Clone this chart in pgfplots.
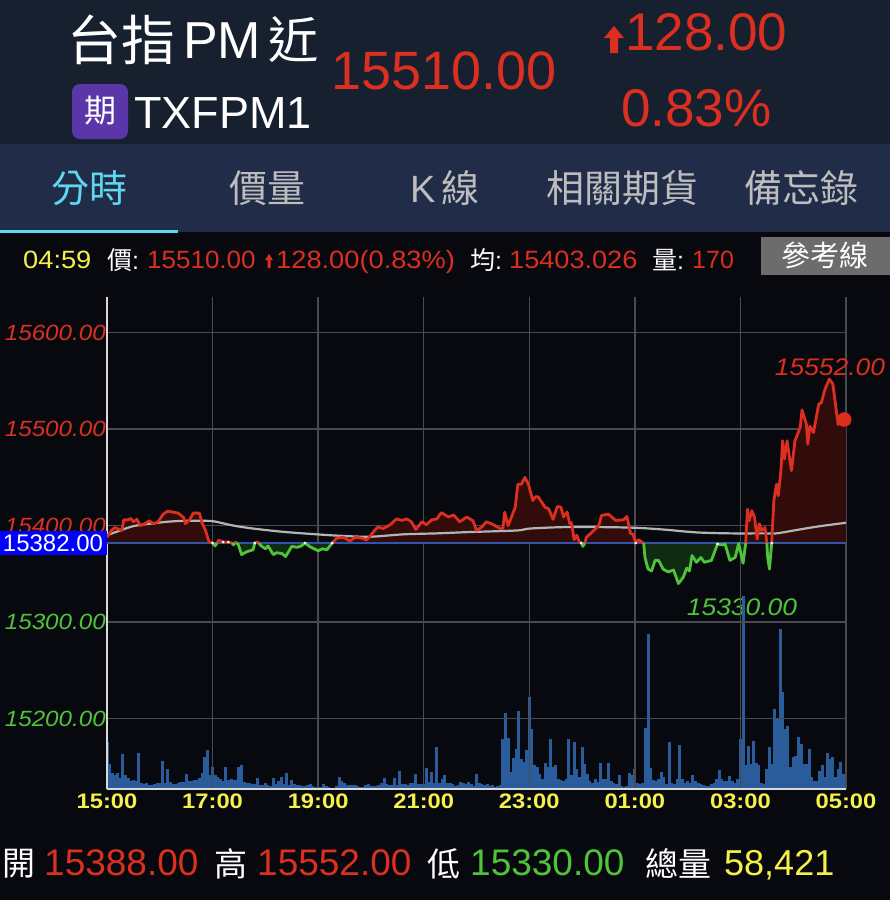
\documentclass[border=0pt]{standalone}
\usepackage{fontspec}
\usepackage{graphicx}
\usepackage{pgfplots}
\usepackage{pgfplotstable}
\pgfplotsset{compat=1.18}
\setmainfont{Liberation Sans}
\newfontfamily\cjk{Noto Sans CJK TC}
\definecolor{hdr}{HTML}{16202F}
\definecolor{tabbg}{HTML}{212C49}
\definecolor{bg}{HTML}{07090F}
\definecolor{upc}{HTML}{DC2F20}
\definecolor{dnc}{HTML}{4FC43A}
\definecolor{yel}{HTML}{F5F04A}
\definecolor{volc}{HTML}{2A5C9C}
\definecolor{basec}{HTML}{3055A8}
\definecolor{upf}{HTML}{320B0B}
\definecolor{dnf}{HTML}{0F2C12}
\definecolor{gridc}{HTML}{4A4B50}
\definecolor{tabc}{HTML}{BDBDBD}
\definecolor{act}{HTML}{5FD8EF}
\definecolor{avgc}{HTML}{B4B4B4}
\definecolor{purp}{HTML}{5A36A8}
\newcommand\T[6][west]{\node[anchor=#1,inner sep=0pt,text=#5,yshift={-0.11pt*#4}] at (#2pt,-#3pt) {\fontsize{#4}{#4}\selectfont\vphantom{(}#6};}
\newcommand\SX[2]{\scalebox{#1}[1]{#2}}
\newcommand\YL[2]{\textcolor{#1}{\SX{1.1}{#2}}}
\newcommand\XL[1]{\SX{1.13}{#1}}
\pgfplotstableread{
m p
0 15388
5 15395
9 15398
13 15396.5
17 15395
19 15406
24 15406
27 15407.5
30 15404
34 15406.5
38 15400
43 15402
48 15405
53 15402
58 15404
64 15412
69 15415
75 15414
81 15413
87 15408.5
89 15402
94 15406
98 15413
105 15413
108 15403
112 15395
116 15383
120 15382
123 15379
125 15382
127 15385
132 15383
138 15383
142 15382
144 15380
145 15382
146 15383
147 15382
149 15381
153 15370
159 15373
166 15375
168 15382
171 15383
172.5 15382
174 15380
180 15376
183 15379
189 15370
193 15372
199 15371
203 15368
210 15378.5
216 15377.5
221 15379
225 15382
231 15378
240 15374
245 15376
250 15375
256 15382
261 15387
269 15388
276 15384
282 15388
290 15387
295 15385
299 15389
305 15396
308 15398.5
314 15397
322 15401
329 15407
335 15405.5
341 15407
346 15404
351 15396
358 15404
363 15401
369 15406
375 15407
380 15413.5
388 15409
394 15411
401 15404
409 15409
416 15405
420 15395
426 15398.5
431 15404
437 15402
447 15397
450 15397
452 15414
456 15400
464 15419
467 15443
471 15443
475 15450
479 15443
484 15426
487 15430
490 15430
498 15419
502 15417.5
507 15406.5
512 15420
516 15419
519 15409
523 15414
526 15402
528 15403
531 15385.5
534 15390
537 15383
539 15382
541 15378.5
543 15382
545 15388
551 15393
559 15400
562 15410.5
570 15412
578 15405.5
587 15406
591 15409.5
595 15392
598 15391
601 15382
604 15385.5
608 15383
610 15382
611.5 15367
615 15355
619 15353
623 15364
627 15364
632 15355
638 15352
644 15354
649.5 15340
655 15346.5
659 15356
662 15353
665 15369
670 15362
675 15367
679 15362
687 15364
694 15381
699 15380
702.5 15381
708 15364
714 15367
718 15381.6
721.5 15367
723 15361
726 15382
728 15417
730 15405
733 15415.5
736 15408.5
739 15386
741.5 15402
744 15395
748 15398
750 15382
751 15367
753 15355
755.5 15382
758 15426
761 15443
763 15431
766 15457
768 15488
770 15469
773 15488
778 15457
782 15488
788 15502
790 15520
793 15511
795 15505
796.5 15484.5
799 15503
803 15496.5
809 15526
812 15527.6
816 15541
821 15552
825 15547
831 15505
837 15509
840 15510
}\price
\pgfplotstableread{
m a
0 15390
15 15395
30 15399.5
49 15402
68 15404
87 15405
106 15405
121 15404.5
144 15400
166 15397
200 15393.6
238 15391
265 15389.5
299 15388.5
337 15391
375 15392
413 15393.4
466 15395
481 15397
526 15398.6
594 15398
632 15396
670 15393
708 15392
746 15392
761 15392
784 15395.5
807 15399
840 15403
}\avgline
\begin{document}
\begin{tikzpicture}
\path[use as bounding box] (0,0) rectangle (890pt,-900pt);
\clip (0,0) rectangle (890pt,-900pt);
\fill[bg] (0,0) rectangle (890pt,-900pt);
\fill[hdr] (0,0) rectangle (890pt,-144pt);
\fill[tabbg] (0,-144pt) rectangle (890pt,-232pt);
\fill[act] (0,-230pt) rectangle (178pt,-232.5pt);
\T{67}{37}{54}{white}{\cjk 台指}
\T{183}{39}{52}{white}{PM}
\T{268}{37}{50}{white}{\cjk 近}
\fill[purp,rounded corners=8pt] (72pt,-84pt) rectangle (128pt,-139pt);
\T[center]{100}{109}{32}{white}{\cjk 期}
\T{134}{112}{45}{white}{TXFPM1}
\T{331}{70}{54}{upc}{15510.00}
\fill[upc] (614pt,-26pt) -- (624pt,-38pt) -- (618pt,-38pt) -- (618pt,-53pt) -- (610pt,-53pt) -- (610pt,-38pt) -- (604pt,-38pt) -- cycle;
\T{625}{31}{53}{upc}{128.00}
\T{621}{107}{53}{upc}{0.83\%}
\T[center]{89}{186}{38}{act}{\cjk 分時}
\T[center]{267}{186}{38}{tabc}{\cjk 價量}
\T[center]{445}{186}{38}{tabc}{K\,{\cjk 線}}
\T[center]{622}{186}{38}{tabc}{\cjk 相關期貨}
\T[center]{801}{186}{38}{tabc}{\cjk 備忘錄}
\T{23}{259}{25}{yel}{\SX{1.09}{04:59}}
\T{107}{259}{25}{white}{{\cjk 價}:}
\T{147}{259}{25}{upc}{\SX{1.04}{15510.00}}
\fill[upc] (269pt,-254pt) -- (273pt,-260pt) -- (270.5pt,-260pt) -- (270.5pt,-268pt) -- (267.5pt,-268pt) -- (267.5pt,-260pt) -- (265pt,-260pt) -- cycle;
\T{276}{259}{25}{upc}{\SX{1.09}{128.00(0.83\%)}}
\T{470}{259}{25}{white}{{\cjk 均}:}
\T{509}{259}{25}{upc}{\SX{1.085}{15403.026}}
\T{652}{259}{25}{white}{{\cjk 量}:}
\T{692}{259}{25}{upc}{170}
\fill[gray!85!black] (761pt,-237pt) rectangle (890pt,-275pt);
\T[center]{825}{254}{29}{white}{\cjk 參考線}
\T[center]{742}{607}{24}{dnc}{\itshape\SX{1.1}{15330.00}}
% volume
\begin{axis}[at={(107pt,-789pt)},anchor=south west,scale only axis,width=739pt,height=492pt,
  xmin=0,xmax=840,ymin=0,ymax=492,hide axis,clip=true]
\addplot[ycomb,volc,line width=3pt,mark=none] table[row sep=\\,header=false,x expr=\coordindex*3,y index=0]{
47\\25\\16\\14\\16\\11\\35\\14\\11\\8\\9\\8\\36\\6\\5\\6\\4\\4\\5\\6\\6\\28\\6\\20\\7\\5\\5\\6\\7\\7\\15\\8\\8\\9\\9\\11\\16\\32\\39\\14\\22\\14\\12\\10\\8\\22\\9\\10\\9\\9\\22\\24\\7\\6\\6\\5\\5\\11\\4\\4\\6\\4\\3\\11\\5\\8\\12\\5\\16\\4\\9\\5\\4\\4\\3\\3\\4\\5\\3\\2\\2\\2\\5\\3\\2\\1\\1\\3\\12\\8\\6\\4\\4\\4\\4\\3\\2\\2\\4\\5\\3\\3\\3\\4\\6\\11\\5\\4\\4\\11\\4\\18\\5\\5\\4\\6\\6\\15\\5\\5\\5\\21\\7\\17\\6\\42\\6\\10\\14\\6\\6\\5\\3\\4\\7\\6\\5\\7\\5\\3\\15\\6\\5\\4\\5\\3\\4\\2\\3\\4\\50\\76\\51\\17\\31\\40\\78\\30\\27\\39\\92\\60\\24\\22\\15\\10\\26\\22\\50\\22\\24\\10\\9\\8\\10\\50\\14\\47\\20\\12\\42\\25\\15\\8\\6\\10\\7\\26\\10\\10\\26\\8\\6\\5\\14\\3\\2\\3\\16\\14\\20\\6\\5\\6\\61\\155\\21\\9\\8\\10\\17\\12\\5\\47\\6\\5\\10\\44\\10\\6\\8\\6\\14\\8\\6\\5\\4\\3\\3\\5\\6\\10\\19\\10\\8\\8\\13\\8\\6\\10\\50\\193\\24\\43\\25\\48\\26\\24\\6\\5\\20\\42\\25\\80\\70\\160\\97\\60\\63\\22\\32\\33\\52\\45\\25\\25\\40\\12\\8\\8\\18\\24\\12\\36\\30\\32\\12\\20\\27\\15\\27\\
};
\end{axis}
% price
\begin{axis}[at={(107pt,-789pt)},anchor=south west,scale only axis,width=739pt,height=492pt,
  xmin=0,xmax=840,ymin=15127,ymax=15637,clip=false,
  axis x line*=bottom,axis y line*=left,
  axis line style={white!85!black,line width=1.3pt,-},
  scaled y ticks=false,scaled x ticks=false,
  xtick={0,120,...,840},
  xticklabels={\XL{15:00},\XL{17:00},\XL{19:00},\XL{21:00},\XL{23:00},\XL{01:00},\XL{03:00},\XL{05:00}},
  x tick label style={text=yel,font=\bfseries\fontsize{21}{21}\selectfont,inner sep=0pt,yshift=-5pt},
  ytick={15200,15300,15400,15500,15600},
  yticklabels={\YL{dnc}{15200.00},\YL{dnc}{15300.00},\YL{upc}{15400.00},\YL{upc}{15500.00},\YL{upc}{15600.00}},
  y tick label style={anchor=east,font=\itshape\fontsize{22}{22}\selectfont,inner sep=0pt,xshift=-1pt},
  major tick length=0pt,grid=major,major grid style={gridc,line width=1.5pt}]
\addplot[fill=upf,draw=none,forget plot,y filter/.expression={max(y,15382)}] table[x=m,y=p]{\price} -- (axis cs:840,15382) -- (axis cs:0,15382) -- cycle;
\addplot[fill=dnf,draw=none,forget plot,y filter/.expression={min(y,15382)}] table[x=m,y=p]{\price} -- (axis cs:840,15382) -- (axis cs:0,15382) -- cycle;
\addplot[basec,line width=1.4pt] coordinates {(0,15382) (840,15382)};
\addplot[avgc,line width=2.2pt,smooth] table[x=m,y=a]{\avgline};
\addplot[upc,line width=2.8pt,line join=round,unbounded coords=jump,restrict y to domain=15381.9:15700] table[x=m,y=p]{\price};
\addplot[dnc,line width=2.8pt,line join=round,unbounded coords=jump,restrict y to domain=15000:15382.1] table[x=m,y=p]{\price};
\addplot[only marks,mark=*,mark size=1.1pt,white] coordinates {(120,15382) (132,15383) (138,15383) (168,15382) (225,15382) (256,15382) (539,15382) (601,15382) (694,15381) (755.5,15382)};
\addplot[only marks,mark=*,mark size=7pt,upc] coordinates {(838,15510)};
\end{axis}
\fill[blue] (0,-531pt) rectangle (107pt,-555pt);
\T[center]{53}{543}{24}{white}{15382.00}
\T[center]{830}{367}{24}{upc}{\itshape\SX{1.1}{15552.00}}
\T{2}{862}{33}{white}{\cjk 開}
\T{44}{862}{37}{upc}{15388.00}
\T{214}{862}{33}{white}{\cjk 高}
\T{257}{862}{37}{upc}{15552.00}
\T{427}{862}{33}{white}{\cjk 低}
\T{470}{862}{37}{dnc}{15330.00}
\T{645}{862}{33}{white}{\cjk 總量}
\T{724}{862}{36}{yel}{58,421}
\end{tikzpicture}
\end{document}
